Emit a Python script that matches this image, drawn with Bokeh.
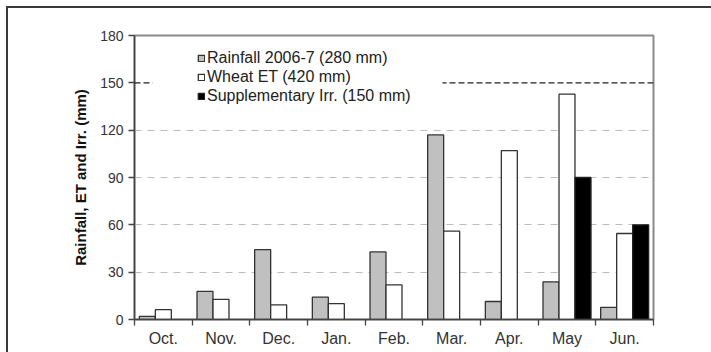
import numpy as np
from bokeh.plotting import figure
from bokeh.models import (ColumnDataSource, FixedTicker, Span, BoxAnnotation,
                          Legend, LegendItem, Range1d)
from bokeh.transform import dodge
from bokeh.embed import file_html
from bokeh.resources import INLINE

months = ["Oct.", "Nov.", "Dec.", "Jan.", "Feb.", "Mar.", "Apr.", "May", "Jun."]
rainfall = [2.0, 17.8, 44.3, 14.2, 42.8, 117.0, 11.4, 23.9, 7.7]
wheat_et = [6.2, 12.8, 9.3, 10.0, 22.0, 56.0, 107.0, 142.8, 54.5]
irrigation = [np.nan, np.nan, np.nan, np.nan, np.nan, np.nan, np.nan, 90.0, 60.0]
series_labels = ["Rainfall 2006-7 (280 mm)", "Wheat ET (420 mm)", "Supplementary Irr. (150 mm)"]
y_ticks = [0, 30, 60, 90, 120, 150, 180]
grid_ticks = [30, 60, 90, 120]
reference_line = 150

FONT = "Liberation Sans"

src = ColumnDataSource(dict(x=list(range(len(months))), rain=rainfall,
                            et=wheat_et, irr=irrigation))

p = figure(width=711, height=352, output_backend="svg", toolbar_location=None,
           x_range=Range1d(-0.5, len(months) - 0.5), y_range=Range1d(0, 180),
           min_border_left=134, min_border_right=58, min_border_top=35,
           min_border_bottom=33)
p.background_fill_color = "white"
p.border_fill_alpha = 0
p.outline_line_color = "#8a8a8a"
p.outline_line_width = 2
# outer picture frame (top and left lines) drawn as the page background behind the canvas
p.styles = {
    "background": ("linear-gradient(#3a3a3a,#3a3a3a) 6px 6px / 705px 2px no-repeat, "
                   "linear-gradient(#3a3a3a,#3a3a3a) 6px 6px / 2px 346px no-repeat, white"),
}

bw = 0.277
r1 = p.vbar(x=dodge("x", -0.2775, range=p.x_range), top="rain", width=bw, source=src,
            fill_color="#c0c0c0", line_color="#333333", line_width=1.3)
r2 = p.vbar(x=dodge("x", 0.0, range=p.x_range), top="et", width=bw, source=src,
            fill_color="white", line_color="#333333", line_width=1.3)
r3 = p.vbar(x=dodge("x", 0.2775, range=p.x_range), top="irr", width=bw, source=src,
            fill_color="black", line_color="#222222", line_width=1.3)

# grid
p.xgrid.visible = False
p.ygrid.ticker = FixedTicker(ticks=grid_ticks)
p.ygrid.grid_line_color = "#bdbdbd"
p.ygrid.grid_line_dash = "7 6"
p.ygrid.grid_line_width = 1.2

span = Span(location=reference_line, dimension="width", line_color="#222222",
            line_dash="6 3", line_width=1.3)
p.add_layout(span)

# white box behind legend interrupting the dashed line (frame-relative screen units)
cover = BoxAnnotation(left=18, right=308, top=244, bottom=230,
                      left_units="screen", right_units="screen",
                      top_units="screen", bottom_units="screen",
                      fill_color="white", fill_alpha=1.0, line_color=None)
p.add_layout(cover)

# axes
xa = p.xaxis[0]
xa.ticker = FixedTicker(ticks=list(range(len(months))),
                        minor_ticks=[i - 0.5 for i in range(len(months) + 1)])
xa.major_label_overrides = {i: m for i, m in enumerate(months)}
xa.major_tick_line_color = None
xa.major_tick_out = 0
xa.major_tick_in = 0
xa.minor_tick_line_color = "#444444"
xa.minor_tick_out = 6
xa.minor_tick_in = 0
xa.minor_tick_line_width = 1.3
xa.axis_line_color = "#444444"
xa.axis_line_width = 1.5
xa.major_label_text_font = FONT
xa.major_label_text_font_size = "16px"
xa.major_label_text_color = "#333333"
xa.major_label_standoff = 4

ya = p.yaxis[0]
ya.ticker = FixedTicker(ticks=y_ticks)
ya.minor_tick_line_color = None
ya.major_tick_out = 6
ya.major_tick_in = 0
ya.major_tick_line_color = "#444444"
ya.major_tick_line_width = 1.3
ya.axis_line_color = "#444444"
ya.axis_line_width = 1.5
ya.major_label_text_font = FONT
ya.major_label_text_font_size = "14px"
ya.major_label_text_color = "#333333"
ya.major_label_standoff = 5
ya.axis_label = "Rainfall, ET and Irr. (mm)"
ya.axis_label_text_font = FONT
ya.axis_label_text_font_size = "15px"
ya.axis_label_text_font_style = "bold"
ya.axis_label_text_color = "#111111"
ya.axis_label_standoff = 8

legend = Legend(items=[LegendItem(label=series_labels[0], renderers=[r1]),
                       LegendItem(label=series_labels[1], renderers=[r2]),
                       LegendItem(label=series_labels[2], renderers=[r3])],
                location=(63, 214), orientation="vertical")
legend.background_fill_alpha = 0
legend.border_line_color = None
legend.padding = 0
legend.margin = 0
legend.spacing = 1
legend.glyph_width = 8
legend.glyph_height = 8
legend.label_height = 17
legend.label_standoff = 2
legend.label_text_font = FONT
legend.label_text_font_size = "16px"
legend.label_text_color = "#222222"
p.add_layout(legend, "center")

open("out.html", "w").write(file_html(p, INLINE))
